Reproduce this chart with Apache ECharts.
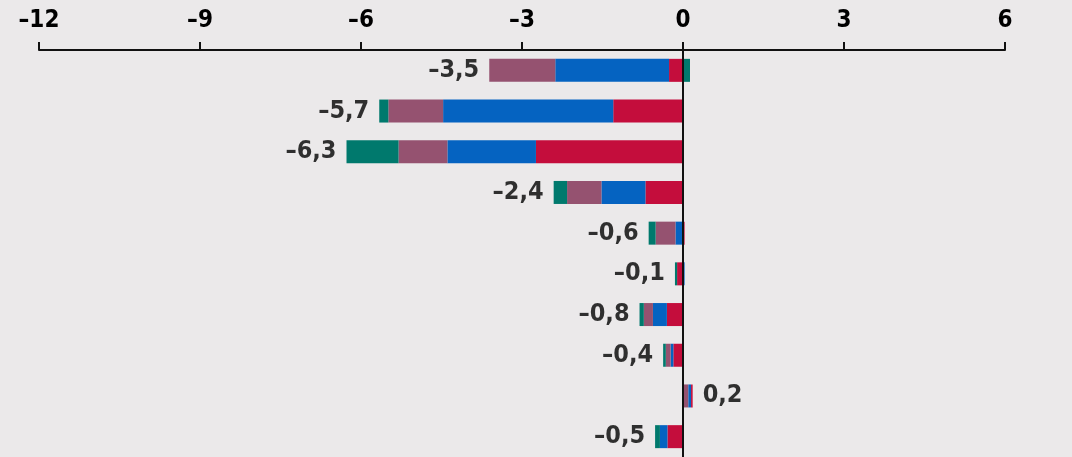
<!DOCTYPE html>
<html>
<head>
<meta charset="utf-8">
<script src="https://cdn.jsdelivr.net/npm/echarts@6/dist/echarts.min.js"></script>
<style>
  html, body { margin: 0; padding: 0; background: #ebe9ea; }
  #chart { width: 1072px; height: 457px; }
</style>
</head>
<body>
<div id="chart"></div>
<script>
// categories (no labels shown in the chart)
const categories = ['1', '2', '3', '4', '5', '6', '7', '8', '9', '10']

// component values per row
const redValues    = [-0.26, -1.30, -2.74, -0.70,  0.03, -0.11, -0.30, -0.18, 0.03, -0.29]
const blueValues   = [-2.12, -3.17, -1.65, -0.82, -0.14,  0.03, -0.26, -0.05, 0.05, -0.14]
const purpleValues = [-1.23, -1.02, -0.91, -0.64, -0.37,  0.00, -0.17, -0.09, 0.10,  0.00]
const tealValues   = [ 0.13, -0.17, -0.97, -0.25, -0.13, -0.04, -0.08, -0.05, 0.00, -0.09]

// printed totals
const totals = [-3.5, -5.7, -6.3, -2.4, -0.6, -0.1, -0.8, -0.4, 0.2, -0.5]

const xTicks = { min: -12, max: 6, interval: 3 }

const FONT = '"DejaVu Sans Condensed", "Liberation Sans Narrow", sans-serif'
const colors = { red: '#c40d3c', blue: '#0563c1', purple: '#955270', teal: '#00796d' }

const fmt = v => String(v).replace('.', ',').replace('-', '\u2013')

// negative parts stack outward red → teal, positive parts teal → red
const neg = arr => arr.map(v => (v < 0 ? v : 0))
const pos = arr => arr.map(v => (v > 0 ? v : 0))

const barSeries = (name, data, color) => ({
  name,
  type: 'bar',
  stack: 'total',
  barWidth: 23,
  data,
  itemStyle: { color },
  emphasis: { disabled: true }
})

const series = [
  barSeries('red', neg(redValues), colors.red),
  barSeries('blue', neg(blueValues), colors.blue),
  barSeries('purple', neg(purpleValues), colors.purple),
  barSeries('teal', neg(tealValues), colors.teal),
  barSeries('teal+', pos(tealValues), colors.teal),
  barSeries('purple+', pos(purpleValues), colors.purple),
  barSeries('blue+', pos(blueValues), colors.blue),
  barSeries('red+', pos(redValues), colors.red)
]

// total labels sit at the outer end of the bar
const labelPoints = totals.map((t, i) => {
  const parts = [redValues[i], blueValues[i], purpleValues[i], tealValues[i]]
  const end = t < 0
    ? parts.filter(v => v < 0).reduce((a, b) => a + b, 0)
    : parts.filter(v => v > 0).reduce((a, b) => a + b, 0)
  return {
    value: [end, i],
    label: { position: t < 0 ? 'left' : 'right' }
  }
})

series.push({
  type: 'scatter',
  symbolSize: 0,
  data: labelPoints,
  silent: true,
  label: {
    show: true,
    distance: 10,
    color: '#000',
    fontSize: 25,
    fontWeight: 'bold',
    fontFamily: FONT,
    formatter: p => fmt(totals[p.dataIndex])
  }
})

const chart = echarts.init(document.getElementById('chart'), null, { renderer: 'canvas' })

chart.setOption({
  backgroundColor: '#ebe9ea',
  animation: false,
  grid: { left: 39, right: 67, top: 50, bottom: -4, containLabel: false },
  xAxis: {
    type: 'value',
    position: 'top',
    min: xTicks.min,
    max: xTicks.max,
    interval: xTicks.interval,
    splitLine: { show: false },
    axisLine: { show: true, lineStyle: { color: '#111', width: 2 } },
    axisTick: { show: true, length: 8, lineStyle: { color: '#111', width: 2 } },
    axisLabel: {
      margin: 17,
      color: '#000',
      fontSize: 24,
      fontWeight: 'bold',
      fontFamily: FONT,
      formatter: v => fmt(v)
    }
  },
  yAxis: {
    type: 'category',
    data: categories,
    inverse: true,
    z: 10,
    axisLine: { show: true, onZero: true, lineStyle: { color: '#111', width: 2 } },
    axisTick: { show: false },
    axisLabel: { show: false },
    splitLine: { show: false }
  },
  series
})
</script>
</body>
</html>
